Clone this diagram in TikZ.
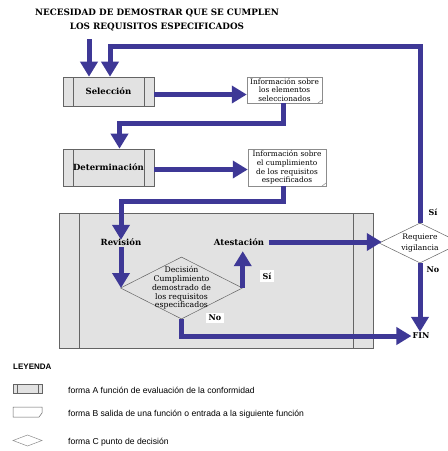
\documentclass[tikz,border=0pt]{standalone}
\usepackage{fontspec}
\setmainfont{DejaVu Serif}
\newfontfamily\legfont{Liberation Sans}
\usetikzlibrary{arrows.meta,shapes.geometric,calc}
\definecolor{flowblue}{RGB}{62,56,150}
\definecolor{boxgray}{RGB}{226,226,226}
\definecolor{edgegray}{RGB}{100,100,100}
\definecolor{infoedge}{RGB}{140,140,140}
\begin{document}
\begin{tikzpicture}[x=1pt,y=-1pt,
  flow/.style={draw=flowblue, line width=5pt, line join=miter, -{Triangle[length=15pt,width=17pt]}},
  funcbox/.style={draw=edgegray, fill=boxgray, line width=0.6pt, inner sep=0pt,
    font=\bfseries\fontsize{8.5}{10}\selectfont,
    path picture={\draw[edgegray,line width=0.6pt]
      ([xshift=#1]path picture bounding box.north west) -- ([xshift=#1]path picture bounding box.south west)
      ([xshift=-#1]path picture bounding box.north east) -- ([xshift=-#1]path picture bounding box.south east);}},
  infobox/.style={draw=infoedge, fill=white, line width=0.5pt, inner sep=0pt, align=center,
    font=\fontsize{7.4}{8.7}\selectfont,
    path picture={\draw[infoedge,line width=0.5pt]
      ([xshift=-4pt]path picture bounding box.south east) -- ([yshift=3pt]path picture bounding box.south east);}},
  steplabel/.style={font=\bfseries\fontsize{8.5}{10}\selectfont, inner sep=1.5pt},
  yesno/.style={font=\bfseries\fontsize{8}{10}\selectfont, fill=white, inner sep=2.5pt},
  decshape/.style={diamond, draw=edgegray, line width=0.5pt, inner sep=0pt},
  legtext/.style={font=\legfont\fontsize{8.6}{10}\selectfont, anchor=west, inner sep=0pt},
]
\useasboundingbox (0,0) rectangle (448,451);
% title
\node[font=\bfseries\fontsize{8.8}{14}\selectfont, align=center] (title) at (157,20)
  {NECESIDAD DE DEMOSTRAR QUE SE CUMPLEN\\LOS REQUISITOS ESPECIFICADOS};
% boxes
\node[funcbox=10pt, minimum width=91pt, minimum height=29pt] (sel) at (108.5,91.5) {Selección};
\node[infobox, minimum width=75pt, minimum height=26pt] (info1) at (284.5,90)
  {Información sobre\\los elementos\\seleccionados};
\node[funcbox=10pt, minimum width=91pt, minimum height=37pt] (det) at (108.5,167.5) {Determinación};
\node[infobox, minimum width=78pt, minimum height=37pt] (info2) at (287,167.5)
  {Información sobre\\el cumplimiento\\de los requisitos\\especificados};
\node[funcbox=20pt, minimum width=314pt, minimum height=135pt] (eval) at (216,280.5) {};
\node[steplabel] (rev) at (121,242) {Revisión};
\node[steplabel] (ate) at (239,242) {Atestación};
\node[decshape, fill=boxgray, minimum width=122pt, minimum height=62pt,
  label={[align=center, font=\fontsize{7.8}{8.7}\selectfont]center:Decisión\\Cumplimiento\\demostrado de\\los requisitos\\especificados}] (dec) at (181.5,288) {};
\node[decshape, fill=white, minimum width=82pt, minimum height=40pt,
  label={[align=center, font=\fontsize{7.6}{11.5}\selectfont]center:Requiere\\vigilancia}] (rv) at (420,243) {};
\node[font=\bfseries\fontsize{8}{10}\selectfont, inner sep=1pt] (fin) at (421,336) {FIN};
\node[yesno] (si1) at (267,276) {Sí};
\node[yesno] (no1) at (215,318) {No};
\node[yesno] (si2) at (433,212) {Sí};
\node[yesno] (no2) at (433,270) {No};
% connectors
\coordinate (tin) at (89,39);
\draw[flow] (tin) -- (tin |- sel.north);
\draw[flow] (rv.north) -- ++(0,-176) -| ([xshift=1.5pt]sel.north);
\draw[flow] ([yshift=-3pt]sel.east) -- ([yshift=-3pt]sel.east -| info1.west);
\draw[flow] ([xshift=-1.5pt]info1.south) -- ++(0,20) -| ([xshift=11pt]det.north);
\draw[flow] ([yshift=-2pt]det.east) -- ([yshift=-2pt]det.east -| info2.west);
\draw[flow] ([xshift=-4pt]info2.south) -- ++(0,15) -| ([yshift=-3pt]rev.north);
\draw[flow] (rev.south) -- (rev.south |- dec.west);
\draw[flow] (dec.east) -- ([yshift=-4pt]dec.east |- ate.south);
\draw[flow] (dec.south) |- (fin.west);
\draw[flow] ([xshift=3pt]ate.east) -- ([xshift=3pt]ate.east -| rv.west);
\draw[flow] (rv.south) -- (rv.south |- fin.north);
% legend
\node[font=\legfont\bfseries\fontsize{8}{10}\selectfont, anchor=west, inner sep=0pt] (ley) at (13,367) {LEYENDA};
\draw[edgegray, fill=boxgray, line width=0.5pt] (13,384) rectangle (42,393);
\draw[edgegray, line width=0.5pt] (17,384) -- (17,393) (38,384) -- (38,393);
\draw[edgegray, fill=white, line width=0.5pt] (13,407) -- (42,407) -- (42,413) -- (39,417) -- (13,417) -- cycle;
\draw[infoedge, fill=white, line width=0.5pt] (13,440.5) -- (27.5,435) -- (42,440.5) -- (27.5,446) -- cycle;
\node[legtext] (la) at (68,390) {forma A función de evaluación de la conformidad};
\node[legtext] (lb) at (68,414) {forma B salida de una función o entrada a la siguiente función};
\node[legtext] (lc) at (68,442) {forma C punto de decisión};
\end{tikzpicture}
\end{document}
